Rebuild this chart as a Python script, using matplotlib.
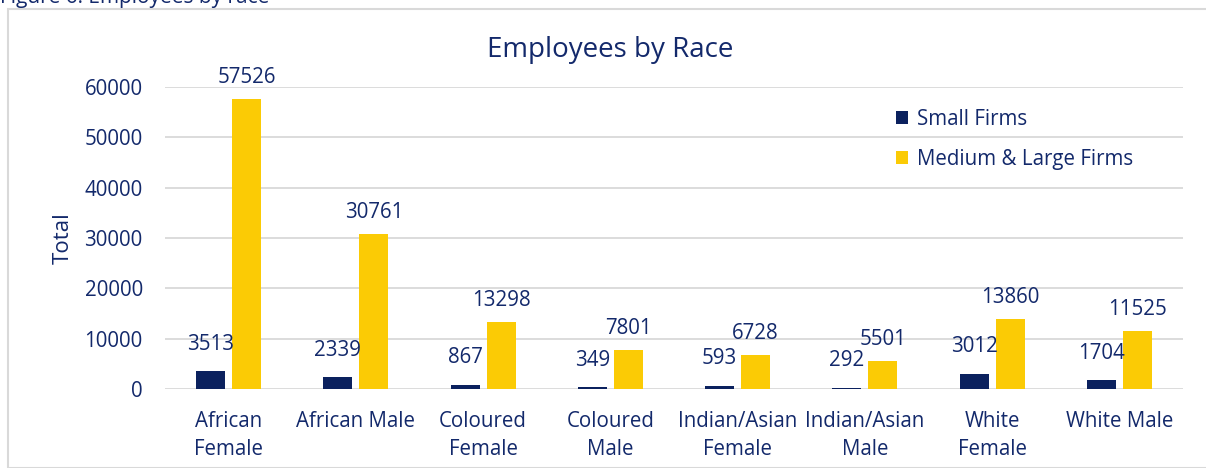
import numpy as np
from matplotlib import pyplot as plt
from matplotlib.patches import Rectangle

plt.rcParams['font.family'] = ['Open Sans', 'DejaVu Sans']

navy = '#0B215E'
yellow = '#FBCB05'
txt = '#13296B'

categories = ['African\nFemale', 'African Male', 'Coloured\nFemale', 'Coloured\nMale',
              'Indian/Asian\nFemale', 'Indian/Asian\nMale', 'White\nFemale', 'White Male']
small = [3513, 2339, 867, 349, 593, 292, 3012, 1704]
medium = [57526, 30761, 13298, 7801, 6728, 5501, 13860, 11525]
yticks = [0, 10000, 20000, 30000, 40000, 50000, 60000]

fig = plt.figure(figsize=(12.06, 4.68), dpi=100)
ax = fig.add_axes([165/1206, 1-389/468, (1183-165)/1206, (389-87)/468])

x = np.arange(len(categories))
w = 0.228
off = 0.141
b1 = ax.bar(x - off, small, w, color=navy, label='Small Firms', zorder=3)
b2 = ax.bar(x + off, medium, w, color=yellow, label='Medium & Large Firms', zorder=3)

fs = 14.8
for r, v in zip(b1, small):
    ax.annotate(str(v), (r.get_x() + r.get_width()/2, v), xytext=(0, 12),
                textcoords='offset points', ha='center', va='bottom',
                fontsize=fs, color=txt)
for r, v in zip(b2, medium):
    ax.annotate(str(v), (r.get_x() + r.get_width()/2, v), xytext=(0, 8),
                textcoords='offset points', ha='center', va='bottom',
                fontsize=fs, color=txt)

ax.set_xlim(-0.5, len(categories) - 0.5)
ax.set_ylim(0, 60000)
ax.set_yticks(yticks)
ax.set_yticklabels([str(t) for t in yticks])
ax.set_xticks(x)
ax.set_xticklabels(categories, linespacing=1.4)
ax.tick_params(axis='both', length=0, labelsize=fs, labelcolor=txt)
ax.tick_params(axis='y', pad=16)
ax.tick_params(axis='x', pad=16)
ax.yaxis.grid(True, color='#D9D9D9', lw=1.3, zorder=0)
for s in ax.spines.values():
    s.set_visible(False)

ax.set_ylabel('Total', fontsize=16, color=txt, labelpad=8)
fig.text(610/1206, 1 - 50/468, 'Employees by Race', fontsize=20, color=txt,
         ha='center', va='center')

leg = ax.legend(loc='upper left', bbox_to_anchor=(0.70, 0.99), frameon=False,
                fontsize=fs, handlelength=0.6, handleheight=0.6,
                handletextpad=0.4, labelspacing=0.95)
for t in leg.get_texts():
    t.set_color(txt)

# chart frame
fig.patches.append(Rectangle((8/1206, 0), 1.2, 1-9/468, transform=fig.transFigure,
                             fill=False, ec='#D9D9D9', lw=1.5))
fig.text(0.0, 1.0 + 2/468, 'Figure 6: Employees by race', fontsize=15, color=txt,
         ha='left', va='center')

fig.savefig('out.png', dpi=100)
